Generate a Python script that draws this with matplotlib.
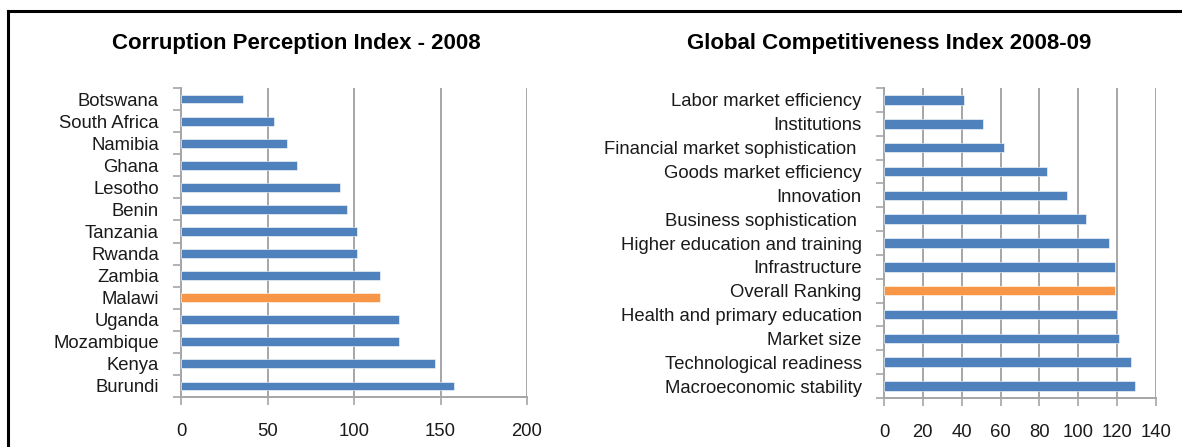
import matplotlib
matplotlib.use("Agg")
import matplotlib.pyplot as plt
from matplotlib.lines import Line2D

plt.rcParams['font.family'] = ['Liberation Sans', 'DejaVu Sans']

# Corruption Perception Index 2008 - rank of each country
cpi_countries = ["Botswana", "South Africa", "Namibia", "Ghana", "Lesotho", "Benin",
                 "Tanzania", "Rwanda", "Zambia", "Malawi", "Uganda", "Mozambique",
                 "Kenya", "Burundi"]
cpi_rank = [36, 54, 61, 67, 92, 96, 102, 102, 115, 115, 126, 126, 147, 158]
cpi_ticks = [0, 50, 100, 150, 200]

# Global Competitiveness Index 2008-09 - Malawi's rank per pillar
gci_pillars = ["Labor market efficiency", "Institutions", "Financial market sophistication ",
               "Goods market efficiency", "Innovation", "Business sophistication ",
               "Higher education and training", "Infrastructure", "Overall Ranking",
               "Health and primary education", "Market size", "Technological readiness",
               "Macroeconomic stability"]
gci_rank = [41, 51, 62, 84, 94, 104, 116, 119, 119, 120, 121, 127, 129]
gci_ticks = [0, 20, 40, 60, 80, 100, 120, 140]

BLUE = "#4F81BD"
ORANGE = "#F79646"
GRID = "#A6A6A6"
TXT = "#1a1a1a"

fig = plt.figure(figsize=(11.82, 4.47), dpi=100)


def draw(ax, labels, values, highlight, ticks, title, title_x):
    n = len(labels)
    ys = list(range(n))
    colors = [ORANGE if lab.strip() == highlight else BLUE for lab in labels]
    ax.barh(ys, values, height=0.4, color=colors, edgecolor="white", linewidth=0.4, zorder=3)
    ax.set_ylim(n - 0.5, -0.5)
    ax.set_xlim(ticks[0], ticks[-1])
    ax.set_xticks(ticks)
    ax.set_xticklabels([str(t) for t in ticks], fontsize=13.3, color=TXT)
    ax.set_yticks(ys)
    ax.set_yticklabels(labels, fontsize=13.3, color=TXT)
    ax.set_yticks([i - 0.5 for i in range(n + 1)], minor=True)
    ax.tick_params(axis="y", which="major", length=0, pad=16)
    ax.tick_params(axis="y", which="minor", length=6, width=1.2, color=GRID)
    ax.tick_params(axis="x", which="major", length=6, width=1.2, color=GRID, pad=12.5)
    ax.grid(axis="x", color=GRID, linewidth=1.4, zorder=1)
    for side in ("top", "right"):
        ax.spines[side].set_visible(False)
    for side in ("left", "bottom"):
        ax.spines[side].set_color(GRID)
        ax.spines[side].set_linewidth(1.4)
    fig.text(title_x, 1 - 43 / 447, title, fontsize=16, fontweight="bold",
             ha="center", va="center", color="black")


ax1 = fig.add_axes([181 / 1182, 1 - 397 / 447, 346 / 1182, 309 / 447])
draw(ax1, cpi_countries, cpi_rank, "Malawi", cpi_ticks,
     "Corruption Perception Index - 2008", 296 / 1182)

ax2 = fig.add_axes([884 / 1182, 1 - 398 / 447, 272 / 1182, 310 / 447])
draw(ax2, gci_pillars, gci_rank, "Overall Ranking", gci_ticks,
     "Global Competitiveness Index 2008-09", 889 / 1182)

# outer frame (top and left edges)
fig.add_artist(Line2D([7.5 / 1182, 1], [1 - 10.5 / 447, 1 - 10.5 / 447], color="black", linewidth=2.2))
fig.add_artist(Line2D([7.5 / 1182, 7.5 / 1182], [0, 1 - 10.5 / 447], color="black", linewidth=2.2))

fig.savefig("out.png", dpi=100, facecolor="white")
